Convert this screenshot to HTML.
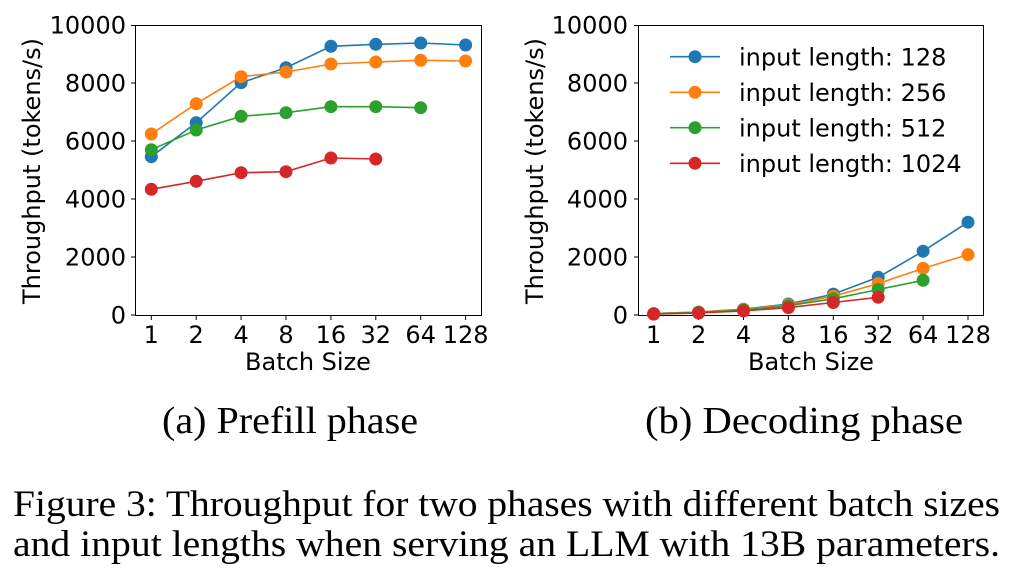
<!DOCTYPE html>
<html><head><meta charset="utf-8"><style>
html,body{margin:0;padding:0;background:#fff;}
svg{display:block;}
.t{font-family:"DejaVu Sans",sans-serif;font-size:24px;fill:#000;}
.c{font-family:"Liberation Serif",serif;fill:#000;}
</style></head><body>
<svg width="1016" height="586" viewBox="0 0 1016 586" xmlns="http://www.w3.org/2000/svg">
<rect width="1016" height="586" fill="#fff"/>
<!-- LEFT PLOT -->
<g>
<rect x="135.5" y="25.5" width="346" height="290" fill="none" stroke="#000" stroke-width="1"/>
<g stroke="#000" stroke-width="1">
<line x1="131" y1="315" x2="135.5" y2="315"/><line x1="131" y1="257" x2="135.5" y2="257"/><line x1="131" y1="199" x2="135.5" y2="199"/><line x1="131" y1="141" x2="135.5" y2="141"/><line x1="131" y1="83" x2="135.5" y2="83"/><line x1="131" y1="25.5" x2="135.5" y2="25.5"/>
<line x1="151.3" y1="315.5" x2="151.3" y2="320"/><line x1="196.2" y1="315.5" x2="196.2" y2="320"/><line x1="241.1" y1="315.5" x2="241.1" y2="320"/><line x1="286" y1="315.5" x2="286" y2="320"/><line x1="330.9" y1="315.5" x2="330.9" y2="320"/><line x1="375.8" y1="315.5" x2="375.8" y2="320"/><line x1="420.7" y1="315.5" x2="420.7" y2="320"/><line x1="465.6" y1="315.5" x2="465.6" y2="320"/>
</g>
<g class="t" text-anchor="end">
<text x="126" y="323.5">0</text><text x="126" y="265.5">2000</text><text x="126" y="207.5">4000</text><text x="126" y="149.5">6000</text><text x="126" y="91.5">8000</text><text x="126" y="33.5">10000</text>
</g>
<g class="t" text-anchor="middle">
<text x="151.3" y="343">1</text><text x="196.2" y="343">2</text><text x="241.1" y="343">4</text><text x="286" y="343">8</text><text x="330.9" y="343">16</text><text x="375.8" y="343">32</text><text x="420.7" y="343">64</text><text x="465.6" y="343">128</text>
<text x="308" y="370">Batch Size</text>
<text transform="translate(40,171) rotate(-90)">Throughput (tokens/s)</text>
</g>
<g stroke-width="1.6" fill="none">
<polyline stroke="#1f77b4" points="151.3,156.7 196.2,122.7 241.1,82.7 286,67.7 330.9,46.3 375.8,44.3 420.7,43 465.6,45"/>
<polyline stroke="#ff7f0e" points="151.3,134 196.2,103.7 241.1,76.7 286,72 330.9,64 375.8,62 420.7,60.3 465.6,61"/>
<polyline stroke="#2ca02c" points="151.3,149.7 196.2,130 241.1,116.3 286,112.7 330.9,106.7 375.8,106.7 420.7,107.7"/>
<polyline stroke="#d62728" points="151.3,189.3 196.2,181.3 241.1,172.7 286,171.7 330.9,158 375.8,159"/>
</g>
<g fill="#1f77b4"><circle cx="151.3" cy="156.7" r="6.5"/><circle cx="196.2" cy="122.7" r="6.5"/><circle cx="241.1" cy="82.7" r="6.5"/><circle cx="286" cy="67.7" r="6.5"/><circle cx="330.9" cy="46.3" r="6.5"/><circle cx="375.8" cy="44.3" r="6.5"/><circle cx="420.7" cy="43" r="6.5"/><circle cx="465.6" cy="45" r="6.5"/></g>
<g fill="#ff7f0e"><circle cx="151.3" cy="134" r="6.5"/><circle cx="196.2" cy="103.7" r="6.5"/><circle cx="241.1" cy="76.7" r="6.5"/><circle cx="286" cy="72" r="6.5"/><circle cx="330.9" cy="64" r="6.5"/><circle cx="375.8" cy="62" r="6.5"/><circle cx="420.7" cy="60.3" r="6.5"/><circle cx="465.6" cy="61" r="6.5"/></g>
<g fill="#2ca02c"><circle cx="151.3" cy="149.7" r="6.5"/><circle cx="196.2" cy="130" r="6.5"/><circle cx="241.1" cy="116.3" r="6.5"/><circle cx="286" cy="112.7" r="6.5"/><circle cx="330.9" cy="106.7" r="6.5"/><circle cx="375.8" cy="106.7" r="6.5"/><circle cx="420.7" cy="107.7" r="6.5"/></g>
<g fill="#d62728"><circle cx="151.3" cy="189.3" r="6.5"/><circle cx="196.2" cy="181.3" r="6.5"/><circle cx="241.1" cy="172.7" r="6.5"/><circle cx="286" cy="171.7" r="6.5"/><circle cx="330.9" cy="158" r="6.5"/><circle cx="375.8" cy="159" r="6.5"/></g>
</g>
<!-- RIGHT PLOT -->
<g>
<rect x="638.5" y="25.5" width="345" height="290" fill="none" stroke="#000" stroke-width="1"/>
<g stroke="#000" stroke-width="1">
<line x1="634" y1="315" x2="638.5" y2="315"/><line x1="634" y1="257" x2="638.5" y2="257"/><line x1="634" y1="199" x2="638.5" y2="199"/><line x1="634" y1="141" x2="638.5" y2="141"/><line x1="634" y1="83" x2="638.5" y2="83"/><line x1="634" y1="25.5" x2="638.5" y2="25.5"/>
<line x1="653.7" y1="315.5" x2="653.7" y2="320"/><line x1="698.6" y1="315.5" x2="698.6" y2="320"/><line x1="743.5" y1="315.5" x2="743.5" y2="320"/><line x1="788.4" y1="315.5" x2="788.4" y2="320"/><line x1="833.3" y1="315.5" x2="833.3" y2="320"/><line x1="878.2" y1="315.5" x2="878.2" y2="320"/><line x1="923.1" y1="315.5" x2="923.1" y2="320"/><line x1="968" y1="315.5" x2="968" y2="320"/>
</g>
<g class="t" text-anchor="end">
<text x="628" y="323.5">0</text><text x="628" y="265.5">2000</text><text x="628" y="207.5">4000</text><text x="628" y="149.5">6000</text><text x="628" y="91.5">8000</text><text x="628" y="33.5">10000</text>
</g>
<g class="t" text-anchor="middle">
<text x="653.7" y="343">1</text><text x="698.6" y="343">2</text><text x="743.5" y="343">4</text><text x="788.4" y="343">8</text><text x="833.3" y="343">16</text><text x="878.2" y="343">32</text><text x="923.1" y="343">64</text><text x="968" y="343">128</text>
<text x="811" y="370">Batch Size</text>
<text transform="translate(543,171) rotate(-90)">Throughput (tokens/s)</text>
</g>
<g stroke-width="1.6" fill="none">
<polyline stroke="#1f77b4" points="653.7,313.6 698.6,312.1 743.5,309.2 788.4,304 833.3,294.1 878.2,277.3 923.1,251.2 968,222.2"/>
<polyline stroke="#ff7f0e" points="653.7,313.6 698.6,312.1 743.5,309.5 788.4,304.9 833.3,296.2 878.2,283.6 923.1,268.4 968,254.6"/>
<polyline stroke="#2ca02c" points="653.7,313.8 698.6,312.4 743.5,310.1 788.4,305.7 833.3,298.8 878.2,289.5 923.1,280.3"/>
<polyline stroke="#d62728" points="653.7,314.1 698.6,313 743.5,310.9 788.4,307.6 833.3,302.5 878.2,297.3"/>
</g>
<g fill="#1f77b4"><circle cx="653.7" cy="313.6" r="6.5"/><circle cx="698.6" cy="312.1" r="6.5"/><circle cx="743.5" cy="309.2" r="6.5"/><circle cx="788.4" cy="304" r="6.5"/><circle cx="833.3" cy="294.1" r="6.5"/><circle cx="878.2" cy="277.3" r="6.5"/><circle cx="923.1" cy="251.2" r="6.5"/><circle cx="968" cy="222.2" r="6.5"/></g>
<g fill="#ff7f0e"><circle cx="653.7" cy="313.6" r="6.5"/><circle cx="698.6" cy="312.1" r="6.5"/><circle cx="743.5" cy="309.5" r="6.5"/><circle cx="788.4" cy="304.9" r="6.5"/><circle cx="833.3" cy="296.2" r="6.5"/><circle cx="878.2" cy="283.6" r="6.5"/><circle cx="923.1" cy="268.4" r="6.5"/><circle cx="968" cy="254.6" r="6.5"/></g>
<g fill="#2ca02c"><circle cx="653.7" cy="313.8" r="6.5"/><circle cx="698.6" cy="312.4" r="6.5"/><circle cx="743.5" cy="310.1" r="6.5"/><circle cx="788.4" cy="305.7" r="6.5"/><circle cx="833.3" cy="298.8" r="6.5"/><circle cx="878.2" cy="289.5" r="6.5"/><circle cx="923.1" cy="280.3" r="6.5"/></g>
<g fill="#d62728"><circle cx="653.7" cy="314.1" r="6.5"/><circle cx="698.6" cy="313" r="6.5"/><circle cx="743.5" cy="310.9" r="6.5"/><circle cx="788.4" cy="307.6" r="6.5"/><circle cx="833.3" cy="302.5" r="6.5"/><circle cx="878.2" cy="297.3" r="6.5"/></g>
<!-- legend -->
<g stroke-width="1.6">
<line x1="670" y1="56.7" x2="720" y2="56.7" stroke="#1f77b4"/><circle cx="695" cy="56.7" r="6.5" fill="#1f77b4"/>
<line x1="670" y1="92.3" x2="720" y2="92.3" stroke="#ff7f0e"/><circle cx="695" cy="92.3" r="6.5" fill="#ff7f0e"/>
<line x1="670" y1="127.7" x2="720" y2="127.7" stroke="#2ca02c"/><circle cx="695" cy="127.7" r="6.5" fill="#2ca02c"/>
<line x1="670" y1="163.3" x2="720" y2="163.3" stroke="#d62728"/><circle cx="695" cy="163.3" r="6.5" fill="#d62728"/>
</g>
<g class="t">
<text x="739" y="65.5">input length: 128</text>
<text x="739" y="101">input length: 256</text>
<text x="739" y="136.5">input length: 512</text>
<text x="739" y="172">input length: 1024</text>
</g>
</g>
<!-- captions -->
<g class="c">
<text x="162" y="433" font-size="38" textLength="256" lengthAdjust="spacingAndGlyphs">(a) Prefill phase</text>
<text x="645" y="433" font-size="38" textLength="318" lengthAdjust="spacingAndGlyphs">(b) Decoding phase</text>
<text x="13" y="516" font-size="37" textLength="987" lengthAdjust="spacingAndGlyphs">Figure 3: Throughput for two phases with different batch sizes</text>
<text x="13" y="556" font-size="37" textLength="987" lengthAdjust="spacingAndGlyphs">and input lengths when serving an LLM with 13B parameters.</text>
</g>
</svg>
</body></html>
